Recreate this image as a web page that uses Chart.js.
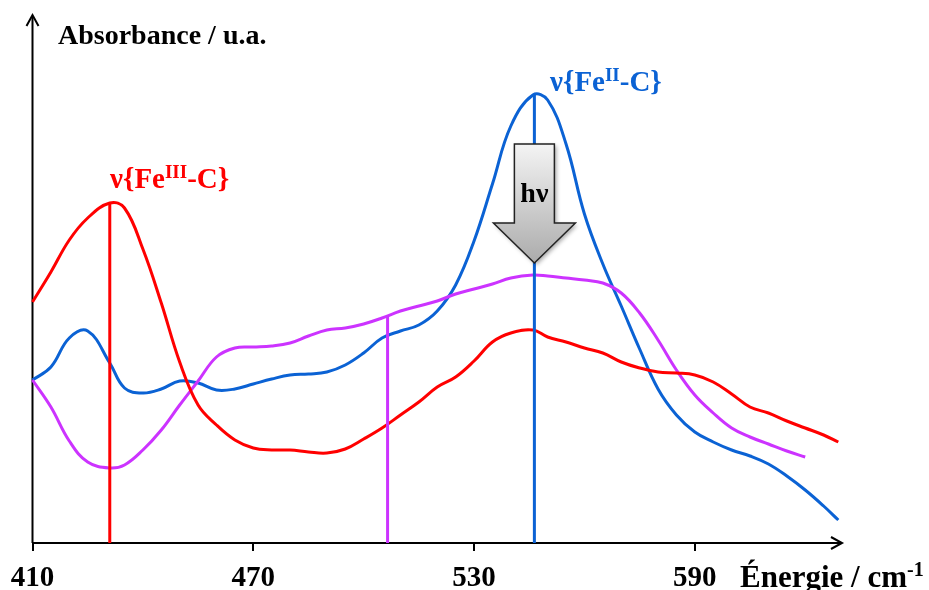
<!DOCTYPE html>
<html><head><meta charset="utf-8">
<script src="https://cdn.jsdelivr.net/npm/chart.js@4/dist/chart.umd.min.js"></script>
<style>html,body{margin:0;padding:0;background:#fff;}#wrap{width:929px;height:590px;position:relative;}</style>
</head><body><div id="wrap"><canvas id="c"></canvas></div>
<script>
// Energy grid (cm-1)
const energies = [410,415,420,425,431,435,440,445,450,455,460,465,470,475,480,485,490,495,500,505,510,515,520,525,530,535,540,546,550,555,560,565,570,575,580,585,590,595,600,605,610,615,620,625,629];
// Absorbance (arbitrary units)
const redAbs = [241,271,303,325,340,335,294,240,181,138,118,103,95,93,93,91,90,94,104,115,128,141,156,166,182,201,210,213,206,201,195,190,181,175,171,170,168,161,149,136,130,122,115,108,101];
const blueAbs = [163,176,205,212,180,155,150,154,162,160,153,154,159,164,168,169,171,178,190,205,212,218,232,258,302,359,417,448,443,399,329,279,237,194,154,128,111,101,93,87,79,67,53,37,23];
const magentaAbs = [163,136,102,81,75,78,93,113,138,162,186,195,196,197,200,207,213,215,219,225,232,237,242,249,254,259,265,268,267,265,263,260,250,230,203,173,148,130,115,106,99,92,86,null,null];
// Band markers: energy position and top of the vertical line
const markerEnergies = [431, 506.5, 546.4];
const markerTops = [340, 227, 448];
// Axis
const tickValues = [410,470,530,590];
const xMin = 410, xMax = 630, yMin = 0, yMax = 528;
// Texts
const yTitle = 'Absorbance / u.a.';
const xTitle = [{t:'Énergie / cm'},{t:'-1',sup:true}];
const redLabel = [{t:'ν{Fe'},{t:'III',sup:true},{t:'-C}'}];
const blueLabel = [{t:'ν{Fe'},{t:'II',sup:true},{t:'-C}'}];
const arrowText = 'hν';

const RED = '#ff0000', BLUE = '#0b62d4', MAG = '#cc33ff';
const FAM = '"Liberation Serif", "Times New Roman", serif';

const pts = arr => energies.map((e,i) => ({x:e, y:arr[i]}));
const marker = (i, color) => ({
  data: [{x:markerEnergies[i], y:yMin}, {x:markerEnergies[i], y:markerTops[i]}],
  borderColor: color, borderWidth: 3, pointRadius: 0, tension: 0, order: 0, clip: false
});
const curve = (arr, color) => ({
  data: pts(arr), borderColor: color, borderWidth: 3, pointRadius: 0,
  tension: 0.4, spanGaps: false, order: 1, clip: false
});

function rich(ctx, parts, x, y, size, color) {
  let cx = x;
  ctx.fillStyle = color;
  ctx.textBaseline = 'alphabetic';
  ctx.textAlign = 'left';
  for (const p of parts) {
    const s = p.sup ? Math.round(size*0.64) : size;
    ctx.font = `bold ${s}px ${FAM}`;
    ctx.fillText(p.t, cx, p.sup ? y - size*0.36 : y);
    cx += ctx.measureText(p.t).width;
  }
}

const deco = {
  id: 'deco',
  beforeDatasetsDraw(chart) {
    const {ctx, chartArea: a} = chart;
    ctx.save();
    ctx.strokeStyle = '#000'; ctx.lineWidth = 2; ctx.lineCap = 'butt'; ctx.lineJoin = 'miter';
    ctx.beginPath(); ctx.moveTo(a.left, a.bottom); ctx.lineTo(a.left, a.top + 1); ctx.stroke();
    ctx.beginPath(); ctx.moveTo(a.left - 6, a.top + 11); ctx.lineTo(a.left, a.top); ctx.lineTo(a.left + 6, a.top + 11); ctx.stroke();
    ctx.beginPath(); ctx.moveTo(a.left, a.bottom); ctx.lineTo(a.right - 1, a.bottom); ctx.stroke();
    ctx.beginPath(); ctx.moveTo(a.right - 11, a.bottom - 6); ctx.lineTo(a.right, a.bottom); ctx.lineTo(a.right - 11, a.bottom + 6); ctx.stroke();
    ctx.restore();
  },
  afterDatasetsDraw(chart) {
    const {ctx, scales: {x, y}} = chart;
    ctx.save();
    // hv arrow on the blue band
    const cx = x.getPixelForValue(markerEnergies[2]);
    const yTop = y.getPixelForValue(399), yNeck = y.getPixelForValue(320), yTip = y.getPixelForValue(280);
    const g = ctx.createLinearGradient(0, yTop, 0, yTip);
    g.addColorStop(0, '#f4f4f4'); g.addColorStop(1, '#ababab');
    ctx.beginPath();
    ctx.moveTo(cx - 20, yTop); ctx.lineTo(cx + 20, yTop); ctx.lineTo(cx + 20, yNeck);
    ctx.lineTo(cx + 41, yNeck); ctx.lineTo(cx, yTip); ctx.lineTo(cx - 41, yNeck);
    ctx.lineTo(cx - 20, yNeck); ctx.closePath();
    ctx.shadowColor = 'rgba(0,0,0,0.35)'; ctx.shadowBlur = 4; ctx.shadowOffsetX = 2; ctx.shadowOffsetY = 2;
    ctx.fillStyle = g; ctx.fill();
    ctx.shadowColor = 'transparent';
    ctx.strokeStyle = '#222'; ctx.lineWidth = 1.5; ctx.stroke();
    ctx.fillStyle = '#000'; ctx.font = `bold 28px ${FAM}`; ctx.textAlign = 'center'; ctx.textBaseline = 'alphabetic';
    ctx.fillText(arrowText, cx, yTop + 58);
    // texts
    ctx.textAlign = 'left';
    ctx.font = `bold 28px ${FAM}`; ctx.fillStyle = '#000';
    ctx.fillText(yTitle, 58, 44);
    rich(ctx, blueLabel, 550, 91, 29, BLUE);
    rich(ctx, redLabel, 110, 188, 29, RED);
    rich(ctx, xTitle, 740, 587, 31, '#000');
    ctx.restore();
  }
};

new Chart(document.getElementById('c'), {
  type: 'line',
  data: {
    datasets: [
      marker(0, RED), marker(1, MAG), marker(2, BLUE),
      curve(redAbs, RED), curve(magentaAbs, MAG), curve(blueAbs, BLUE)
    ]
  },
  options: {
    responsive: true, maintainAspectRatio: false, animation: false,
    layout: {padding: {left: 32.5, right: 87, top: 15, bottom: 0}},
    plugins: {legend: {display: false}, tooltip: {enabled: false}},
    scales: {
      x: {
        type: 'linear', min: xMin, max: xMax,
        afterBuildTicks: s => { s.ticks = tickValues.map(v => ({value: v})); },
        afterFit: s => { s.height = 47; },
        border: {display: false},
        grid: {drawOnChartArea: false, drawTicks: true, tickLength: 8, color: '#000', lineWidth: 2},
        ticks: {color: '#000', padding: 10, maxRotation: 0, autoSkip: false,
                font: {family: FAM, size: 29, weight: 'bold'}}
      },
      y: {type: 'linear', min: yMin, max: yMax, display: false}
    }
  },
  plugins: [deco]
});
</script></body></html>
